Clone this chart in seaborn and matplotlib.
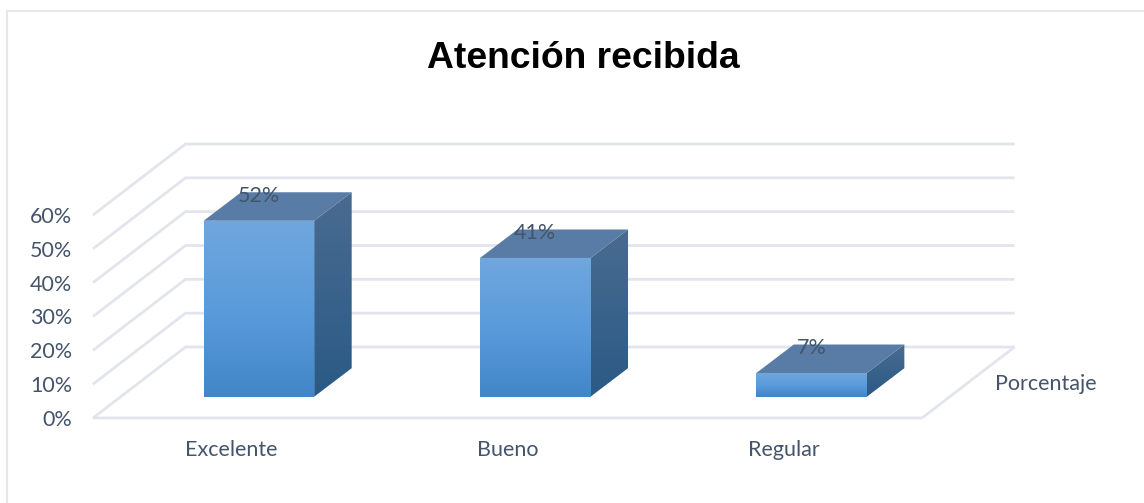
import numpy as np
import pandas as pd
import matplotlib
matplotlib.use("Agg")
import matplotlib.pyplot as plt
from matplotlib.patches import Polygon
from matplotlib.transforms import Affine2D
import seaborn as sns

categories = ["Excelente", "Bueno", "Regular"]
values = [52, 41, 7]
value_labels = ["52%", "41%", "7%"]
y_ticks = [0, 10, 20, 30, 40, 50, 60]
y_tick_labels = ["0%", "10%", "20%", "30%", "40%", "50%", "60%"]
series_name = "Porcentaje"
title_text = "Atención recibida"

W, H = 1144, 503
sns.set_theme(style="white")
plt.rcParams["font.family"] = ["Lato", "DejaVu Sans"]
TXT = "#44546a"
GRID = "#e2e5ec"
FS = 15.5

fig = plt.figure(figsize=(W / 100, H / 100), dpi=100, facecolor="white")
# axes = front plane of the 3D box (pixels: x 93-922, y 418 at 0%, y 215 at 60%)
ax = fig.add_axes([93 / W, 1 - 418 / H, (922 - 93) / W, (418 - 215) / H])
df = pd.DataFrame({"cat": categories, "val": values})
sns.barplot(data=df, x="cat", y="val", ax=ax, width=0.4, color="#5b9bd5", saturation=1, zorder=5)
ax.set_xlim(-0.5, 2.5)
ax.set_ylim(0, 60)
ax.set_xlabel("")
ax.set_ylabel("")
ax.set_yticks(y_ticks)
ax.set_yticklabels(y_tick_labels)
ax.tick_params(axis="y", length=0, pad=15, labelsize=FS, labelcolor=TXT)
ax.tick_params(axis="x", length=0, pad=16, labelsize=FS, labelcolor=TXT)
for s in ax.spines.values():
    s.set_visible(False)
ax.patch.set_visible(False)

# projection offsets in display pixels
BACK = (92.5, 71.0)      # full floor depth
BAR_F = (0.30, 0.30)     # bar front plane as a fraction of depth
BAR_D = (37.5, 28.5)     # bar depth


def px(x, y):
    return ax.transData.transform((x, y))


fig_px = Affine2D().scale(1.0)  # display-pixel transform


def poly(points, **kw):
    p = Polygon(points, closed=True, transform=fig_px, clip_on=False, **kw)
    ax.add_artist(p)
    return p


def line(points):
    xs, ys = zip(*points)
    l = plt.Line2D(xs, ys, transform=fig_px, color=GRID, lw=2.0, solid_capstyle="butt",
                   solid_joinstyle="miter", clip_on=False, zorder=1)
    ax.add_artist(l)


# back wall grid + side wall lines
x0, x1 = -0.5, 2.5
for t in y_ticks:
    a = px(x0, t)
    b = a + BACK
    c = px(x1, t) + BACK
    if t == 0:
        line([px(x1, 0), px(x0, 0), b, c, px(x1, 0)])
    else:
        line([a, b, c])


def gradient(colors, corners):
    cmap = matplotlib.colors.LinearSegmentedColormap.from_list("g", colors)
    g = np.linspace(0, 1, 256).reshape(-1, 1)
    xs = [p[0] for p in corners]
    ys = [p[1] for p in corners]
    im = ax.imshow(g, cmap=cmap, aspect="auto", origin="upper",
                   extent=[min(xs), max(xs), min(ys), max(ys)],
                   transform=fig_px, zorder=6)
    im.set_clip_box(fig.bbox)
    im.set_clip_path(Polygon(corners, closed=True, transform=fig_px))
    return im


ax.set_autoscale_on(False)
fdx, fdy = BACK[0] * BAR_F[0], BACK[1] * BAR_F[1]
for bar, lab in zip(ax.patches, value_labels):
    bx, bw, bh = bar.get_x(), bar.get_width(), bar.get_height()
    bl = px(bx, 0) + (fdx, fdy)
    tl = px(bx, bh) + (fdx, fdy)
    br = px(bx + bw, 0) + (fdx, fdy)
    tr = px(bx + bw, bh) + (fdx, fdy)
    d = np.array(BAR_D)
    bar.set_visible(False)
    gradient(["#70a7dd", "#5a9bdb", "#4286c8"], [bl, br, tr, tl])
    gradient(["#4a6b90", "#2a5a86"], [br, br + d, tr + d, tr])
    poly([tl, tr, tr + d, tl + d], facecolor="#587ca6", edgecolor="none", zorder=6)
    mid = (tl + tr) / 2 + (0, 25)
    fig.text(mid[0] / W, mid[1] / H, lab, ha="center", va="center",
             fontsize=FS, color=TXT, zorder=10)

# series name on the depth axis
fig.text(1046 / W, 1 - 384 / H, series_name, ha="center", va="center", fontsize=FS, color=TXT)
# title
fig.text(583 / W, 1 - 58 / H, title_text, ha="center", va="center", fontsize=26.8,
         fontweight="bold", family=["Liberation Sans"], color="black")
# chart border: only the top and left edges are inside the picture
fig.add_artist(plt.Line2D([6.5, 6.5, W], [0, H - 11, H - 11], transform=fig_px,
                          color="#e4e7ee", lw=1.5, solid_joinstyle="miter"))

fig.savefig("out.png", dpi=100, facecolor="white")
